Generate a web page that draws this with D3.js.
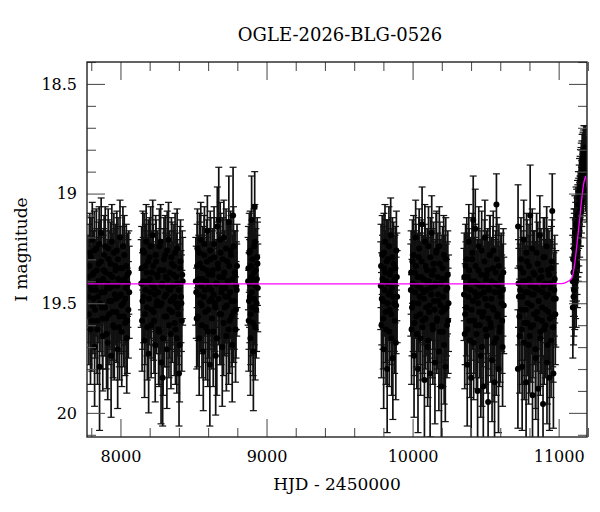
<!DOCTYPE html>
<html>
<head>
<meta charset="utf-8">
<script src="https://cdn.jsdelivr.net/npm/d3@7"></script>
<style>
body{margin:0;background:#fff;}
text{font-family:"DejaVu Serif",serif;fill:#000;}
</style>
</head>
<body>
<div id="lc"></div>
<script>
(function(){
var width = 600,
	height = 512,
	margin = {top:62,right:13,bottom:75,left:87},
	pw = width-margin.left-margin.right,
	ph = height-margin.top-margin.bottom;

// photometry, one array per season: [HJD-2450000, I mag, error]
var season1 = [[7778,19.38,.19],[7784,19.55,.23],[7790,19.27,.18],[7795,19.62,.25],[7801,19.44,.20],[7807,19.21,.17],[7812,19.51,.22],[7818,19.36,.19],[7823,19.70,.27],[7829,19.41,.20],[7835,19.25,.18],[7840,19.58,.24],[7846,19.47,.21],[7851,19.32,.19],[7857,19.79,.29],[7863,19.40,.20],[7868,19.18,.16],[7874,19.52,.22],[7879,19.65,.25],[7885,19.35,.19],[7891,19.45,.21],[7896,19.24,.18],[7902,19.57,.23],[7908,19.43,.20],[7913,19.68,.26],[7919,19.30,.18],[7924,19.49,.21],[7930,19.37,.20],[7936,19.74,.28],[7941,19.22,.17],[7947,19.54,.22],[7952,19.42,.20],[7958,19.61,.24],[7964,19.33,.19],[7969,19.48,.21],[7975,19.26,.18],[7981,19.71,.27],[7986,19.39,.20],[7992,19.56,.23],[7997,19.20,.17],[8003,19.46,.21],[8009,19.63,.25],[8014,19.34,.19],[8020,19.50,.22],[8026,19.28,.18],[8031,19.59,.24],[8037,19.43,.20],[8043,19.66,.25],[8048,19.37,.19],[8054,19.53,.22],[8060,19.45,.21],
	[7781,19.47,.21],[7787,19.33,.19],[7793,19.42,.20],[7798,19.29,.18],[7804,19.58,.23],[7810,19.37,.20],[7815,19.48,.21],[7821,19.26,.18],[7826,19.53,.22],[7832,19.44,.21],[7838,19.35,.19],[7843,19.62,.25],[7849,19.40,.20],[7854,19.23,.17],[7860,19.50,.22],[7866,19.31,.19],[7871,19.45,.21],[7877,19.57,.23],[7882,19.39,.20],[7888,19.28,.18],[7894,19.52,.22],[7899,19.36,.19],[7905,19.64,.25],[7911,19.41,.20],[7916,19.25,.18],[7922,19.55,.23],[7927,19.43,.21],[7933,19.32,.19],[7939,19.49,.22],[7944,19.38,.20],[7950,19.60,.24],[7955,19.27,.18],[7961,19.46,.21],[7966,19.35,.19],[7972,19.54,.23],[7978,19.42,.20],[7983,19.30,.19],[7989,19.47,.21],[7994,19.61,.24],[8000,19.34,.19],[8006,19.51,.22],[8011,19.40,.20],[8017,19.24,.18],[8023,19.56,.23],[8029,19.39,.20],[8034,19.48,.21],[8040,19.33,.19],[8046,19.58,.24],[8051,19.41,.20],[8057,19.36,.19]];
var season2 = [[8142,19.41,.20],[8148,19.58,.23],[8153,19.26,.18],[8159,19.47,.21],[8165,19.67,.26],[8170,19.33,.19],[8176,19.22,.17],[8182,19.52,.22],[8187,19.40,.20],[8193,19.73,.27],[8199,19.29,.18],[8204,19.45,.21],[8210,19.60,.24],[8216,19.36,.19],[8221,19.19,.16],[8227,19.54,.22],[8233,19.43,.20],[8238,19.69,.26],[8244,19.31,.19],[8250,19.49,.21],[8255,19.38,.20],[8261,19.62,.25],[8267,19.24,.17],[8272,19.51,.22],[8278,19.77,.28],[8284,19.42,.20],[8289,19.84,.22],[8295,19.35,.19],[8301,19.56,.23],[8306,19.28,.18],[8312,19.46,.21],[8318,19.71,.27],[8323,19.39,.20],[8329,19.21,.17],[8335,19.53,.22],[8340,19.44,.21],[8346,19.64,.25],[8352,19.32,.19],[8357,19.48,.21],[8363,19.37,.20],[8369,19.59,.24],[8374,19.27,.18],[8380,19.50,.22],[8386,19.66,.25],[8391,19.41,.20],[8397,19.55,.23],[8401,19.82,.24],[8408,19.34,.19],[8414,19.47,.21],[8420,19.58,.23],[8426,19.40,.20],
	[8145,19.34,.19],[8151,19.49,.22],[8156,19.40,.20],[8162,19.27,.18],[8168,19.55,.23],[8173,19.44,.21],[8179,19.36,.19],[8184,19.61,.24],[8190,19.31,.19],[8196,19.48,.21],[8201,19.39,.20],[8207,19.24,.18],[8213,19.53,.22],[8218,19.42,.20],[8224,19.33,.19],[8230,19.58,.24],[8235,19.46,.21],[8241,19.28,.18],[8247,19.51,.22],[8252,19.37,.20],[8258,19.45,.21],[8264,19.63,.25],[8269,19.35,.19],[8275,19.22,.17],[8281,19.50,.22],[8286,19.41,.20],[8292,19.66,.26],[8298,19.30,.19],[8303,19.47,.21],[8309,19.38,.20],[8315,19.56,.23],[8320,19.26,.18],[8326,19.43,.21],[8332,19.60,.24],[8337,19.36,.19],[8343,19.49,.22],[8349,19.29,.18],[8354,19.54,.23],[8360,19.42,.20],[8366,19.33,.19],[8371,19.47,.21],[8377,19.62,.25],[8383,19.38,.20],[8388,19.25,.18],[8394,19.52,.22],[8399,19.44,.21],[8405,19.69,.26],[8411,19.31,.19],[8417,19.50,.22],[8423,19.37,.20]];
var season3 = [[8516,19.40,.20],[8522,19.57,.23],[8527,19.25,.18],[8533,19.46,.21],[8539,19.66,.26],[8544,19.32,.19],[8550,19.21,.17],[8556,19.51,.22],[8561,19.39,.20],[8567,19.72,.27],[8573,19.28,.18],[8578,19.44,.21],[8584,19.61,.24],[8590,19.35,.19],[8595,19.17,.16],[8601,19.53,.22],[8607,19.42,.20],[8612,19.78,.28],[8618,19.30,.19],[8624,19.48,.21],[8629,19.37,.20],[8635,19.63,.25],[8641,19.23,.17],[8646,19.50,.22],[8652,19.74,.27],[8658,19.41,.20],[8663,19.15,.18],[8669,19.34,.19],[8673,19.12,.24],[8680,19.55,.23],[8686,19.27,.18],[8691,19.45,.21],[8697,19.70,.27],[8703,19.38,.20],[8708,19.20,.17],[8714,19.52,.22],[8720,19.43,.21],[8725,19.65,.25],[8731,19.31,.19],[8737,19.47,.21],[8742,19.13,.21],[8748,19.58,.24],[8754,19.26,.18],[8759,19.49,.22],[8765,19.69,.26],[8771,19.10,.22],[8776,19.54,.23],[8782,19.36,.19],[8788,19.62,.24],[8793,19.42,.20],[8798,19.33,.19],
	[8519,19.45,.21],[8525,19.33,.19],[8530,19.56,.23],[8536,19.39,.20],[8541,19.27,.18],[8547,19.50,.22],[8553,19.42,.20],[8558,19.60,.24],[8564,19.34,.19],[8570,19.47,.21],[8575,19.23,.17],[8581,19.54,.23],[8587,19.40,.20],[8592,19.31,.19],[8598,19.63,.25],[8604,19.37,.20],[8609,19.49,.22],[8615,19.26,.18],[8621,19.44,.21],[8626,19.57,.23],[8632,19.35,.19],[8638,19.46,.21],[8643,19.29,.18],[8649,19.52,.22],[8655,19.41,.20],[8660,19.66,.26],[8666,19.32,.19],[8672,19.48,.21],[8677,19.38,.20],[8683,19.21,.17],[8689,19.55,.23],[8694,19.43,.21],[8700,19.30,.19],[8706,19.59,.24],[8711,19.36,.19],[8717,19.47,.21],[8723,19.25,.18],[8728,19.51,.22],[8734,19.40,.20],[8740,19.62,.25],[8745,19.33,.19],[8751,19.45,.21],[8757,19.28,.18],[8762,19.56,.23],[8768,19.39,.20],[8774,19.24,.18],[8779,19.49,.22],[8785,19.37,.20],[8791,19.53,.22],[8796,19.44,.21]];
var season4 = [[8874,19.40,.20],[8878,19.58,.23],[8882,19.27,.18],[8886,19.47,.21],[8890,19.66,.26],[8894,19.33,.19],[8898,19.12,.20],[8902,19.52,.22],[8906,19.39,.20],[8910,19.72,.27],[8914,19.24,.17],[8919,19.06,.16],[8922,19.61,.24],[8927,19.35,.19],[8932,19.50,.22],[8936,19.29,.18],[8940,19.43,.20],
	[8876,19.34,.19],[8880,19.49,.22],[8884,19.41,.20],[8888,19.26,.18],[8892,19.55,.23],[8896,19.38,.20],[8900,19.45,.21],[8904,19.30,.19],[8908,19.59,.24],[8912,19.36,.19],[8916,19.48,.21],[8920,19.22,.17],[8924,19.42,.20],[8929,19.53,.22],[8934,19.39,.20],[8938,19.32,.19]];
var season5 = [[9782,19.42,.20],[9787,19.60,.24],[9792,19.28,.18],[9797,19.49,.22],[9802,19.71,.27],[9806,19.34,.19],[9811,19.22,.17],[9816,19.54,.23],[9821,19.40,.20],[9826,19.80,.29],[9831,19.30,.18],[9836,19.46,.21],[9840,19.63,.25],[9845,19.37,.19],[9850,19.19,.17],[9855,19.55,.23],[9860,19.43,.20],[9865,19.75,.28],[9870,19.32,.19],[9875,19.50,.22],[9880,19.39,.20],[9885,19.68,.26],[9889,19.26,.18],[9894,19.47,.21],
	[9784,19.33,.19],[9789,19.48,.21],[9794,19.39,.20],[9799,19.57,.23],[9804,19.27,.18],[9809,19.44,.21],[9813,19.36,.19],[9818,19.62,.25],[9823,19.31,.19],[9828,19.50,.22],[9833,19.41,.20],[9838,19.24,.18],[9843,19.53,.23],[9848,19.45,.21],[9852,19.35,.19],[9857,19.66,.26],[9862,19.29,.18],[9867,19.47,.21],[9872,19.40,.20],[9877,19.58,.24],[9882,19.34,.19],[9887,19.51,.22],[9892,19.38,.20]];
var season6 = [[9988,19.44,.21],[9993,19.62,.25],[9999,19.31,.19],[10004,19.50,.22],[10010,19.74,.28],[10015,19.36,.19],[10021,19.20,.17],[10026,19.56,.23],[10032,19.42,.20],[10037,19.80,.29],[10043,19.29,.18],[10048,19.47,.21],[10054,19.66,.26],[10059,19.38,.20],[10065,19.14,.17],[10070,19.58,.24],[10076,19.45,.21],[10081,19.85,.30],[10087,19.33,.19],[10092,19.52,.22],[10098,19.40,.20],[10103,19.70,.27],[10109,19.24,.18],[10114,19.54,.23],[10120,19.82,.29],[10125,19.43,.21],[10131,19.18,.17],[10136,19.60,.24],[10142,19.35,.19],[10147,19.49,.22],[10153,19.77,.28],[10158,19.41,.20],[10164,19.26,.18],[10169,19.57,.23],[10175,19.46,.21],[10180,19.72,.27],[10186,19.32,.19],[10191,19.51,.22],[10197,19.88,.30],[10202,19.39,.20],[10208,19.63,.25],[10213,19.28,.18],[10219,19.53,.23],[10224,19.79,.25],[10230,19.44,.21],[10235,19.60,.24],[10241,19.37,.20],[10246,19.50,.22],
	[9990,19.36,.19],[9996,19.52,.22],[10001,19.41,.20],[10007,19.28,.18],[10012,19.59,.24],[10018,19.45,.21],[10023,19.33,.19],[10029,19.64,.25],[10034,19.38,.20],[10040,19.50,.22],[10045,19.25,.18],[10051,19.55,.23],[10056,19.43,.21],[10062,19.31,.19],[10067,19.61,.24],[10073,19.39,.20],[10078,19.48,.21],[10084,19.22,.17],[10089,19.57,.23],[10095,19.44,.21],[10100,19.35,.19],[10106,19.67,.26],[10111,19.40,.20],[10117,19.51,.22],[10122,19.29,.18],[10128,19.46,.21],[10133,19.37,.20],[10139,19.62,.25],[10144,19.32,.19],[10150,19.53,.22],[10155,19.42,.20],[10161,19.27,.18],[10166,19.58,.24],[10172,19.38,.20],[10177,19.49,.22],[10183,19.24,.18],[10188,19.63,.25],[10194,19.41,.20],[10199,19.54,.23],[10205,19.34,.19],[10210,19.47,.21],[10216,19.69,.27],[10221,19.39,.20],[10227,19.30,.19],[10232,19.52,.22],[10238,19.43,.21],[10243,19.58,.24]];
var season7 = [[10352,19.46,.21],[10357,19.64,.25],[10363,19.33,.19],[10368,19.52,.22],[10374,19.78,.28],[10379,19.38,.20],[10385,19.22,.17],[10390,19.58,.24],[10396,19.44,.21],[10401,19.84,.30],[10407,19.30,.19],[10412,19.49,.22],[10415,19.12,.20],[10418,19.68,.26],[10423,19.40,.20],[10429,19.16,.18],[10434,19.60,.24],[10440,19.47,.21],[10445,19.90,.31],[10451,19.35,.19],[10456,19.54,.23],[10462,19.42,.21],[10467,19.74,.28],[10473,19.26,.18],[10478,19.56,.23],[10484,19.88,.31],[10489,19.45,.21],[10495,19.20,.17],[10500,19.62,.25],[10506,19.37,.20],[10511,19.51,.22],[10517,19.95,.20],[10522,19.43,.21],[10528,19.28,.18],[10533,19.59,.24],[10539,19.48,.21],[10544,19.76,.28],[10550,19.34,.19],[10555,19.53,.23],[10561,19.86,.30],[10566,19.41,.20],[10572,19.66,.26],[10574,19.05,.14],[10577,19.30,.19],[10583,19.55,.23],[10588,19.80,.29],[10594,19.45,.21],[10599,19.61,.25],[10605,19.39,.20],[10610,19.50,.22],[10616,19.70,.27],[10621,19.36,.20],
	[10354,19.38,.20],[10360,19.55,.23],[10365,19.43,.21],[10371,19.30,.19],[10376,19.62,.25],[10382,19.47,.21],[10387,19.35,.19],[10393,19.67,.26],[10398,19.40,.20],[10404,19.53,.23],[10409,19.27,.18],[10420,19.58,.24],[10426,19.45,.21],[10431,19.33,.19],[10437,19.64,.25],[10442,19.41,.20],[10448,19.50,.22],[10453,19.24,.18],[10459,19.60,.24],[10464,19.46,.21],[10470,19.37,.20],[10475,19.70,.27],[10481,19.42,.21],[10486,19.54,.23],[10492,19.31,.19],[10497,19.48,.21],[10503,19.39,.20],[10508,19.65,.26],[10514,19.35,.19],[10519,19.57,.23],[10525,19.44,.21],[10530,19.28,.18],[10536,19.61,.25],[10541,19.40,.20],[10547,19.52,.22],[10552,19.26,.18],[10558,19.68,.27],[10563,19.45,.21],[10569,19.36,.19],[10580,19.56,.23],[10585,19.42,.20],[10591,19.33,.19],[10596,19.63,.25],[10602,19.47,.21],[10607,19.38,.20],[10613,19.58,.24],[10618,19.44,.21],[10624,19.51,.22]];
var season8 = [[10721,19.80,.27],[10722,19.15,.19],[10728,19.47,.22],[10733,19.65,.26],[10739,19.34,.19],[10744,19.53,.23],[10750,19.79,.29],[10755,19.40,.20],[10761,19.21,.18],[10766,19.59,.24],[10772,19.45,.21],[10777,19.86,.30],[10783,19.31,.19],[10788,19.50,.22],[10794,19.69,.27],[10799,19.39,.20],[10805,19.10,.23],[10810,19.61,.25],[10816,19.46,.21],[10821,19.92,.32],[10827,19.36,.19],[10832,19.55,.23],[10838,19.43,.21],[10843,19.75,.28],[10849,19.27,.18],[10854,19.57,.24],[10860,19.89,.31],[10865,19.44,.21],[10871,19.19,.18],[10876,19.63,.25],[10882,19.38,.20],[10887,19.52,.22],[10893,19.96,.22],[10898,19.42,.21],[10904,19.29,.18],[10909,19.60,.24],[10915,19.47,.21],[10920,19.77,.28],[10926,19.35,.19],[10931,19.54,.23],[10937,19.84,.24],[10942,19.41,.20],[10948,19.67,.26],[10953,19.31,.19],[10956,19.08,.17],[10959,19.56,.23],[10964,19.82,.25],[10970,19.44,.21],[10980,19.48,.22],
	[10725,19.41,.20],[10731,19.56,.23],[10736,19.44,.21],[10742,19.30,.19],[10747,19.62,.25],[10753,19.47,.21],[10758,19.36,.19],[10764,19.68,.26],[10769,19.40,.20],[10775,19.53,.23],[10780,19.27,.18],[10786,19.59,.24],[10791,19.45,.21],[10797,19.33,.19],[10802,19.65,.26],[10808,19.42,.20],[10813,19.51,.22],[10819,19.25,.18],[10824,19.60,.24],[10830,19.46,.21],[10835,19.37,.20],[10841,19.71,.27],[10846,19.43,.21],[10852,19.54,.23],[10857,19.32,.19],[10863,19.49,.22],[10868,19.39,.20],[10874,19.66,.26],[10879,19.35,.19],[10885,19.58,.24],[10890,19.45,.21],[10896,19.29,.18],[10901,19.62,.25],[10907,19.41,.20],[10912,19.53,.22],[10918,19.24,.18],[10923,19.69,.27],[10929,19.46,.21],[10934,19.37,.20],[10940,19.57,.23],[10945,19.43,.21],[10951,19.34,.19],[10962,19.61,.25],[10967,19.48,.21],[10973,19.39,.20],[10977,19.55,.23]];
var season9 = [[11096,19.40,.21],[11099,19.30,.19],[11102,19.47,.22],[11105,19.25,.18],[11108,19.36,.20],[11111,19.18,.17],[11114,19.31,.19],[11117,19.22,.18],[11120,19.40,.21],[11123,19.15,.17],[11126,19.27,.19],[11129,19.10,.16],[11132,19.20,.18],[11135,19.05,.15],[11138,19.16,.17],[11141,19.02,.15],[11144,19.12,.17],[11147,18.97,.14],[11150,19.08,.16],[11153,18.93,.14],[11156,19.03,.15],[11159,18.89,.13],[11162,18.98,.14],[11165,18.86,.13],[11168,18.95,.14],[11171,18.83,.12],[11174,18.92,.13],[11177,18.80,.11],[11180,18.89,.12],[11183,18.79,.10],[11186,18.95,.13],[11189,18.86,.12],[11192,18.99,.14],
	[11097,19.52,.23],[11101,19.36,.20],[11104,19.44,.21],[11107,19.28,.19],[11110,19.41,.21],[11113,19.25,.18],[11116,19.37,.20],[11119,19.14,.17],[11122,19.30,.19],[11125,19.20,.18],[11128,19.33,.19],[11131,19.13,.17],[11134,19.22,.18],[11137,19.09,.16],[11140,19.19,.17],[11143,18.99,.15],[11146,19.08,.16],[11149,18.94,.14],[11152,19.05,.15],[11155,18.90,.13],[11158,19.00,.15],[11161,18.86,.13],[11164,18.96,.14],[11167,18.84,.12],[11170,18.93,.13],[11173,18.81,.12],[11176,18.88,.12],[11179,18.84,.11],[11182,18.93,.12],[11185,18.82,.11],[11188,18.90,.12],[11191,18.85,.11],[11193,18.94,.13]];

// model light curve
var modelHjd = [7771,10900,11000,11040,11065,11089,11110,11123,11140,11157,11170,11180,11186,11194];
var modelMag = [19.412,19.412,19.411,19.408,19.40,19.387,19.32,19.245,19.14,19.03,18.96,18.93,18.92,18.97];

var xMajor = [8000,9000,10000,11000],
	xMinor = [7800,8200,8400,8600,8800,9200,9400,9600,9800,10200,10400,10600,10800,11200],
	yMajor = [18.5,19,19.5,20],
	yMinor = [18.4,18.6,18.7,18.8,18.9,19.1,19.2,19.3,19.4,19.6,19.7,19.8,19.9,20.1];

var title = "OGLE-2026-BLG-0526",
	xTitle = "HJD - 2450000",
	yTitle = "I magnitude";

var X = d3.scaleLinear().domain([7771,11194]).range([0,pw]);
var Y = d3.scaleLinear().domain([18.4,20.11]).range([0,ph]);

var svg = d3.select("#lc").append("svg")
	.attr("width",width)
	.attr("height",height);

svg.append("defs").append("clipPath").attr("id","plotclip")
	.append("rect").attr("width",pw).attr("height",ph);

var g = svg.append("g")
	.attr("transform","translate("+margin.left+","+margin.top+")");

var points = [].concat(season1,season2,season3,season4,season5,season6,season7,season8,season9);

var dataG = g.append("g").attr("clip-path","url(#plotclip)");

var bars = dataG.selectAll(".err").data(points).enter().append("g")
	.attr("class","err")
	.attr("stroke","#111")
	.attr("stroke-width",1.7);

bars.append("line")
	.attr("x1",function(d){return X(d[0])})
	.attr("x2",function(d){return X(d[0])})
	.attr("y1",function(d){return Y(d[1]-d[2])})
	.attr("y2",function(d){return Y(d[1]+d[2])});
bars.append("line")
	.attr("x1",function(d){return X(d[0])-3.5})
	.attr("x2",function(d){return X(d[0])+3.5})
	.attr("y1",function(d){return Y(d[1]-d[2])})
	.attr("y2",function(d){return Y(d[1]-d[2])})
	.attr("stroke-width",1.2);
bars.append("line")
	.attr("x1",function(d){return X(d[0])-3.5})
	.attr("x2",function(d){return X(d[0])+3.5})
	.attr("y1",function(d){return Y(d[1]+d[2])})
	.attr("y2",function(d){return Y(d[1]+d[2])})
	.attr("stroke-width",1.2);

dataG.selectAll(".pt").data(points).enter().append("circle")
	.attr("class","pt")
	.attr("cx",function(d){return X(d[0])})
	.attr("cy",function(d){return Y(d[1])})
	.attr("r",3)
	.attr("fill","#000");

var model = modelHjd.map(function(t,i){return [t,modelMag[i]]});
dataG.append("path").datum(model)
	.attr("fill","none")
	.attr("stroke","#ff00ff")
	.attr("stroke-width",1.3)
	.attr("d",d3.line().curve(d3.curveMonotoneX)
		.x(function(d){return X(d[0])})
		.y(function(d){return Y(d[1])}));

// axes: ticks point inward on all four sides
function fmt(d){ return String(d); }
function axis(a,vals,size,lab,pad){
	return a.tickValues(vals).tickSizeInner(-size).tickSizeOuter(0)
		.tickPadding(pad).tickFormat(lab ? fmt : "");
}
var axes = [
	[d3.axisBottom(X),xMajor,18,true,14,"translate(0,"+ph+")"],
	[d3.axisBottom(X),xMinor,9,false,0,"translate(0,"+ph+")"],
	[d3.axisTop(X),xMajor,18,false,0,null],
	[d3.axisTop(X),xMinor,9,false,0,null],
	[d3.axisLeft(Y),yMajor,18,true,10,null],
	[d3.axisLeft(Y),yMinor,9,false,0,null],
	[d3.axisRight(Y),yMajor,18,false,0,"translate("+pw+",0)"],
	[d3.axisRight(Y),yMinor,9,false,0,"translate("+pw+",0)"]
];
axes.forEach(function(a){
	var ag = g.append("g").attr("transform",a[5]).call(axis(a[0],a[1],a[2],a[3],a[4]));
	ag.select(".domain").remove();
	ag.selectAll(".tick line").attr("stroke","#555").attr("stroke-width",1.1);
	ag.selectAll("text").attr("font-family","DejaVu Serif").attr("font-size",16).attr("fill","#000");
});

g.append("rect")
	.attr("width",pw).attr("height",ph)
	.attr("fill","none").attr("stroke","#222").attr("stroke-width",1.4);

svg.append("text")
	.attr("x",340).attr("y",41)
	.attr("text-anchor","middle")
	.attr("font-size",18)
	.text(title);

svg.append("text")
	.attr("x",margin.left+pw/2).attr("y",490)
	.attr("text-anchor","middle")
	.attr("font-size",17)
	.text(xTitle);

svg.append("text")
	.attr("transform","translate(27,"+(margin.top+ph/2)+") rotate(-90)")
	.attr("text-anchor","middle")
	.attr("font-size",17)
	.text(yTitle);
})()
</script>
</body>
</html>
